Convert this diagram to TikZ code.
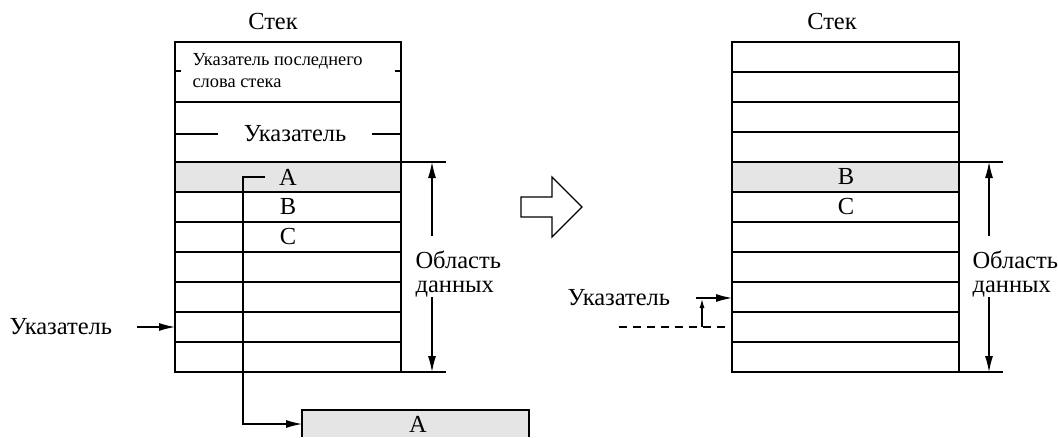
\documentclass[tikz,border=0pt]{standalone}
\usepackage{fontspec}
\setmainfont{Liberation Serif}
\usetikzlibrary{arrows.meta}
\tikzset{
  ptr/.style={-{Latex[length=16pt,width=8pt]}},
  txt/.style={font=\fontsize{24.5}{24}\selectfont, inner sep=0pt},
  small/.style={font=\fontsize{18.4}{22}\selectfont, inner sep=0pt, align=left},
  hot/.style={fill=black!10}
}
\begin{document}
\begin{tikzpicture}[x=1pt,y=-1pt,line width=1.1pt]
    \useasboundingbox (0,0) rectangle (1058,437);
    % left stack
    \node[txt] (titleL) at (273,22) {Стек};
    \fill[hot] (175,162) rectangle (401,192);
    \draw (175,42) rectangle (401,372);
    \draw (175,102) -- (401,102);
    \draw (175,162) -- (401,162);
    \foreach \y in {192,222,...,342} \draw (175,\y) -- (401,\y);
    \node[small, anchor=west] (lastword) at (192,71) {Указатель последнего\\слова стека};
    \draw (175,71) -- (181,71);
    \draw (395,71) -- (401,71);
    \node[txt] (ptrhead) at (295,134) {Указатель};
    \draw (175,134) -- (218,134);
    \draw (372,134) -- (401,134);
    \node[txt] (a) at (288,177) {A};
    \node[txt] (b) at (288,207) {B};
    \node[txt] (c) at (288,237) {C};
    % popped word
    \fill[hot] (302,410) rectangle (529,437);
    \draw (302,437) |- (529,410) -- (529,437);
    \node[txt] (aout) at (418,424) {A};
    \coordinate (popin) at (302,424);
    \draw[ptr] (265,177) -| (243,424) -- (popin);
    % left pointer
    \node[txt, anchor=west] (ptrL) at (9,327) {Указатель};
    \coordinate (ptrLend) at (175,327);
    \draw[ptr] (137,327) -- (ptrLend);
    % left data area
    \draw (401,162) -- (446,162);
    \draw (401,372) -- (446,372);
    \node[txt, align=left, anchor=west] (areaL) at (415,274) {Область\\данных};
    \draw[ptr] (432,236) -- (432,162);
    \draw[ptr] (432,297) -- (432,372);
    % hollow arrow
    \draw (521,197) -- (552,197) -- (552,177) -- (582,207) -- (552,237) -- (552,217) -- (521,217) -- cycle;
    % right stack
    \node[txt] (titleR) at (832,22) {Стек};
    \fill[hot] (732,162) rectangle (959,192);
    \draw (732,42) rectangle (959,372);
    \foreach \y in {72,102,...,342} \draw (732,\y) -- (959,\y);
    \node[txt] (bR) at (846,177) {B};
    \node[txt] (cR) at (846,207) {C};
    % right pointer
    \node[txt, anchor=west] (ptrR) at (567,298) {Указатель};
    \coordinate (ptrRend) at (732,298);
    \draw[ptr] (696,298) -- (ptrRend);
    \draw[dashed, dash pattern=on 8pt off 6pt] (619,327) -- (732,327);
    \draw[-{Latex[length=9pt,width=5pt]}] (702,327) -- (702,299);
    % right data area
    \draw (959,162) -- (1003,162);
    \draw (959,372) -- (1003,372);
    \node[txt, align=left, anchor=west] (areaR) at (972,274) {Область\\данных};
    \draw[ptr] (989,236) -- (989,162);
    \draw[ptr] (989,297) -- (989,372);
\end{tikzpicture}
\end{document}
